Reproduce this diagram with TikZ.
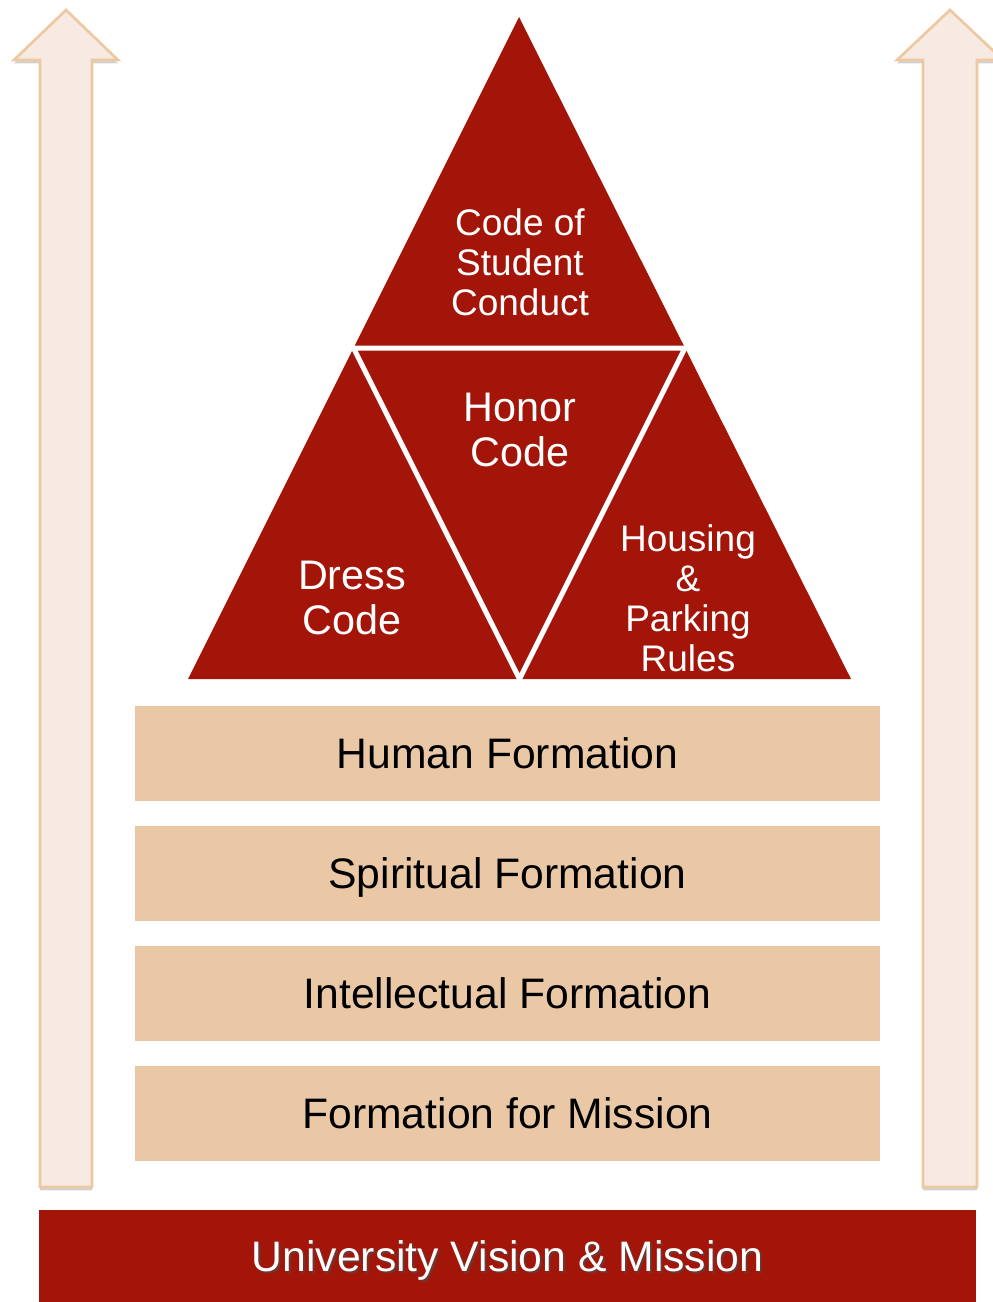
\documentclass[tikz,border=0pt]{standalone}
\usepackage{fontspec}
\setmainfont{Liberation Sans}
\usetikzlibrary{shadows}
\definecolor{deepred}{HTML}{A31509}
\definecolor{tanbox}{HTML}{EAC8A6}
\definecolor{arrowfill}{HTML}{F7EAE2}
\definecolor{arrowline}{HTML}{EDC8A0}
\begin{document}
\begin{tikzpicture}[x=0.75pt,y=-0.75pt,
  uparrow/.style={fill=arrowfill,draw=arrowline,line width=2pt,line join=miter,
    drop shadow={shadow xshift=0pt,shadow yshift=-2.5pt,opacity=0.3,fill=black!60}},
  layer/.style={fill=tanbox,draw=none,minimum width=558.75pt,minimum height=71.25pt,inner sep=0pt,
    text height=22.9pt,text depth=0pt,
    font=\fontsize{32}{38}\selectfont,text=black},
  basetext/.style={font=\fontsize{32}{38}\selectfont,inner sep=0pt,text height=22.9pt,text depth=0pt},
  tritext/.style={text=white,align=center,inner sep=0pt,font=\fontsize{27.75}{30}\selectfont},
  bigtritext/.style={text=white,align=center,inner sep=0pt,font=\fontsize{31}{34}\selectfont},
  divider/.style={draw=white,line width=3.75pt,line cap=butt}]
\useasboundingbox (0,0) rectangle (992,1302);
% side arrows
\draw[uparrow] (66,10) -- (118,60) -- (92,60) -- (92,1187) -- (40,1187) -- (40,60) -- (14,60) -- cycle;
\draw[uparrow] (950,10) -- (1003,60) -- (977,60) -- (977,1187) -- (923,1187) -- (923,60) -- (897,60) -- cycle;
% pyramid
\coordinate (apex) at (519,17);
\coordinate (bl) at (188,679);
\coordinate (br) at (851,679);
\coordinate (ml) at (353.5,348);
\coordinate (mr) at (685,348);
\coordinate (mb) at (519.5,679);
\fill[deepred] (apex) -- (br) -- (bl) -- cycle;
\draw[divider] (ml) -- (mr) -- (mb) -- cycle;
\node[tritext] (conduct) at (520,262) {Code of\\Student\\Conduct};
\node[bigtritext] (honor) at (520,430) {Honor\\Code};
\node[bigtritext] (dress) at (352,598) {Dress\\Code};
\node[tritext] (housing) at (688,598) {Housing\\\&\\Parking\\Rules};
% layers
\node[layer] (human) at (507.5,753.5) {Human Formation};
\node[layer] (spiritual) at (507.5,873.5) {Spiritual Formation};
\node[layer] (intellectual) at (507.5,993.5) {Intellectual Formation};
\node[layer] (mission) at (507.5,1113.5) {Formation for Mission};
% base
\fill[deepred] (39,1210) rectangle (976,1310);
\node[basetext,text=black!70,opacity=0.6] (univshadow) at (509.5,1258) {University Vision \& Mission};
\node[basetext,text=white] (univ) at (507.5,1256) {University Vision \& Mission};
\end{tikzpicture}
\end{document}
